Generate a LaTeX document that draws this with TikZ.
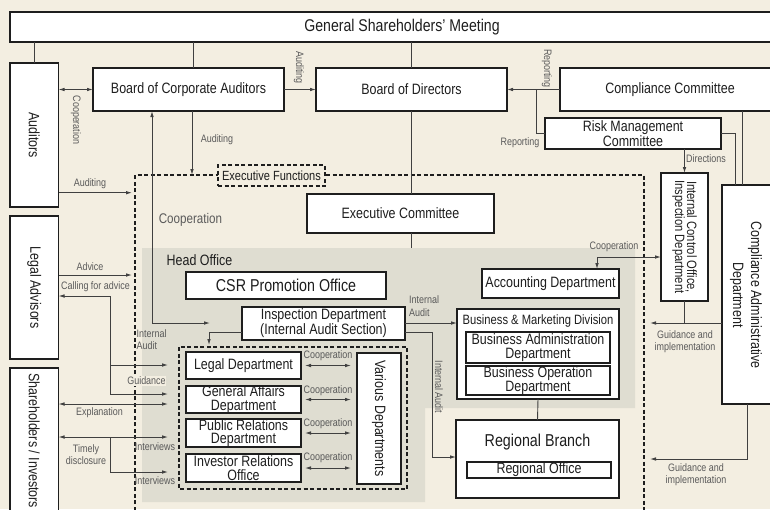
\documentclass[tikz,border=0pt]{standalone}
\usepackage{fontspec}
\setmainfont{Liberation Sans}[FakeStretch=0.83]
\usetikzlibrary{arrows.meta}
\definecolor{bg}{RGB}{243,238,225}
\definecolor{ho}{RGB}{223,221,209}
\definecolor{ln}{RGB}{64,64,64}
\definecolor{lbl}{RGB}{90,90,90}
\definecolor{tx}{RGB}{30,30,30}
\tikzset{
  box/.style={draw=tx, line width=1.1pt, fill=white, inner sep=0pt, outer sep=0pt},
  btxt/.style={text=tx, align=center, inner sep=0pt, font=\fontsize{15}{13.5}\selectfont},
  lab/.style={text=lbl, inner sep=0pt, align=center, font=\fontsize{10.8}{12.5}\selectfont},
  con/.style={draw=ln, line width=0.9pt},
  dsh/.style={draw=tx, line width=1.4pt, dash pattern=on 4pt off 2.5pt},
}
\begin{document}
\begin{tikzpicture}[x=1pt,y=-1pt,>={Latex[length=6pt,width=3.6pt]}]
\useasboundingbox (0,0) rectangle (770,509);
\clip (0,0) rectangle (770,509);
\fill[bg] (0,0) rectangle (770,509);
\fill[ho] (142,248) -- (635,248) -- (635,408) -- (425,408) -- (425,502) -- (142,502) -- cycle;
\draw[dsh] (135,530) -- (135,175) -- (644,175) -- (644,530);
\draw[dsh] (179,347) rectangle (407,489);

% ---------- boxes ----------
\node[box, minimum width=784, minimum height=30] (gsm) at (402,27) {};
\node[btxt, font=\fontsize{17}{17}\selectfont] at (gsm) {General Shareholders’ Meeting};

\node[box, minimum width=48.5, minimum height=144] (aud) at (34.25,135) {};
\node[btxt, rotate=-90] at (aud) {Auditors};
\node[box, minimum width=48.5, minimum height=143] (la) at (34.25,287.5) {};
\node[btxt, rotate=-90] at (la) {Legal Advisors};
\node[box, minimum width=48.5, minimum height=152] (si) at (34.25,444) {};
\node[btxt, rotate=-90, anchor=west] at (34.25,373) {Shareholders / Investors};

\node[box, minimum width=191, minimum height=43] (bca) at (188.5,89.5) {};
\node[btxt] at (bca) {Board of Corporate Auditors};
\node[box, minimum width=191, minimum height=43] (bod) at (411.5,89.5) {};
\node[btxt] at (bod) {Board of Directors};
\node[box, minimum width=220, minimum height=43] (cc) at (670,89.5) {};
\node[btxt] at (cc) {Compliance Committee};
\node[box, minimum width=176, minimum height=31] (rmc) at (633,133.5) {};
\node[btxt] at (rmc) {Risk Management\\Committee};
\node[box, minimum width=47, minimum height=128] (ico) at (684.5,237) {};
\node[btxt, rotate=-90, font=\fontsize{13.5}{12}\selectfont] at (ico) {Internal Control Office,\\Inspection Department};
\node[box, minimum width=49, minimum height=219] (cad) at (746.5,294.5) {};
\node[btxt, rotate=-90, font=\fontsize{15}{18}\selectfont] at (746,295) {Compliance Administrative\\Department};

\node[box, minimum width=187, minimum height=39] (ec) at (400.5,213.5) {};
\node[btxt] at (ec) {Executive Committee};
\node[box, minimum width=200, minimum height=27] (csr) at (286,285.5) {};
\node[btxt, font=\fontsize{17.2}{17}\selectfont] at (csr) {CSR Promotion Office};
\node[box, minimum width=163, minimum height=33] (insp) at (323.5,323.5) {};
\node[btxt] at (insp) {Inspection Department\\(Internal Audit Section)};
\node[box, minimum width=137, minimum height=29] (acc) at (550.5,283.5) {};
\node[btxt] at (acc) {Accounting Department};

\node[box, minimum width=162, minimum height=90] (bmd) at (538,354) {};
\node[btxt, font=\fontsize{13.5}{13}\selectfont] at (538,321) {Business \& Marketing Division};
\node[box, minimum width=144, minimum height=31] (bad) at (538,347.5) {};
\node[btxt] at (bad) {Business Administration\\Department};
\node[box, minimum width=144, minimum height=29] (bop) at (538,380.5) {};
\node[btxt] at (bop) {Business Operation\\Department};

\node[box, minimum width=163, minimum height=78] (rb) at (537.5,459) {};
\node[btxt, font=\fontsize{17.2}{17}\selectfont] at (537.5,442) {Regional Branch};
\node[box, minimum width=144, minimum height=16] (ro) at (539,470) {};
\node[btxt] at (ro) {Regional Office};

\node[box, minimum width=115, minimum height=27] (legal) at (243.5,365.5) {};
\node[btxt] at (legal) {Legal Department};
\node[box, minimum width=115, minimum height=27] (ga) at (243.5,399.5) {};
\node[btxt] at (ga) {General Affairs\\Department};
\node[box, minimum width=115, minimum height=28] (pr) at (243.5,433) {};
\node[btxt] at (pr) {Public Relations\\Department};
\node[box, minimum width=115, minimum height=28] (ir) at (243.5,468) {};
\node[btxt] at (ir) {Investor Relations\\Office};
\node[box, minimum width=44, minimum height=131] (vd) at (379,418.5) {};
\node[btxt, rotate=-90] at (vd) {Various Departments};

\node[dsh, fill=bg, minimum width=107, minimum height=21, inner sep=0pt, text=tx,
      font=\fontsize{13.3}{13}\selectfont] (ef) at (271.5,175.5) {Executive Functions};

% ---------- connectors ----------
\draw[con] (aud.north) -- (aud.north |- gsm.south);
\coordinate (p1) at (193,68);
\draw[con] (p1) -- (p1 |- gsm.south);
\draw[con] (bod.north) -- (bod.north |- gsm.south);
\draw[con,<->] (bca.west -| aud.east) -- (bca.west);
\draw[con,->] (bca.east) -- (bod.west);
\draw[con,->] (cc.west) -- (bod.east);
\coordinate (j1) at (536,89.5);
\draw[con] (j1) |- (rmc.west);
\draw[con,->] (ico.north |- rmc.south) -- (ico.north);
\coordinate (k735) at (735,0);
\draw[con] (rmc.east) -| (cad.north -| k735);
\coordinate (k742) at (742,0);
\draw[con] (cc.south -| k742) -- (cad.north -| k742);
\coordinate (eft) at (0,175);
\coordinate (k192) at (192,0);
\draw[con,->] (bca.south -| k192) -- (eft -| k192);
\coordinate (c210) at (210,323);
\coordinate (k152) at (152,0);
\draw[con,<->] (bca.south -| k152) |- (c210);
\coordinate (a132) at (132,192.7);
\draw[con,->] (a132 -| aud.east) -- (a132);
\draw[con] (bod.south) -- (bod.south |- ec.north);
\coordinate (h248) at (411.5,248);
\draw[con] (ec.south -| h248) -- (h248);
\coordinate (adv) at (132,275);
\draw[con,->] (adv -| la.east) -- (adv);
\coordinate (cfa) at (110,296);
\draw[con,->] (cfa) -- (cfa -| la.east);
\coordinate (g1) at (168,365);
\coordinate (g2) at (168,394);
\draw[con] (cfa) -- (cfa |- g2);
\draw[con,->] (g1 -| cfa) -- (g1);
\draw[con,->] (g2 -| cfa) -- (g2);
\coordinate (e1) at (168,404);
\draw[con,<->] (e1 -| si.east) -- (e1);
\coordinate (t1) at (168,437);
\coordinate (t2) at (168,472);
\draw[con,<->] (t1 -| si.east) -- (t1);
\draw[con,->] (t1 -| cfa) |- (t2);
\coordinate (i1) at (209,345);
\coordinate (iy) at (0,332);
\draw[con,->] (insp.west |- iy) -| (i1);
\coordinate (iy2) at (0,323);
\draw[con,->] (insp.east |- iy2) -- (bmd.west |- iy2);
\coordinate (r1) at (432,457);
\draw[con,->] (insp.east |- iy) -| (r1) -- (rb.west |- r1);
\draw[con] (bmd.south) -- (rb.north);
\coordinate (c597) at (597,257);
\draw[con,<->] (acc.north -| c597) |- (ico.west |- c597);
\coordinate (q1) at (650,323);
\draw[con] (ico.south) -- (ico.south |- q1);
\draw[con,->] (cad.west |- q1) -- (q1);
\coordinate (q2) at (650,459);
\coordinate (k747) at (747,0);
\draw[con,->] (cad.south -| k747) |- (q2);
\foreach \d in {legal,ga,pr,ir}{
  \draw[con,<->] ([xshift=4]\d.east) -- ([xshift=-6]vd.west |- \d.east);
}

% ---------- labels ----------
\node[lab, rotate=-90] at (76,120) {Cooperation};
\node[lab, rotate=-90] at (299,67.5) {Auditing};
\node[lab, rotate=-90] at (547,68.5) {Reporting};
\node[lab] at (520,143) {Reporting};
\node[lab] at (706,159) {Directions};
\node[lab] at (217,140) {Auditing};
\node[lab, font=\fontsize{14}{14}\selectfont] at (190.5,220) {Cooperation};
\node[lab] at (90,184) {Auditing};
\node[lab] at (90,267) {Advice};
\node[lab] at (95.5,287) {Calling for advice};
\node[lab, align=left, anchor=west, font=\fontsize{10.8}{12.5}\selectfont] at (136.5,339.5) {Internal\\Audit};
\node[lab, fill=bg, inner sep=0.8pt] at (146.5,381) {Guidance};
\node[lab] at (99.5,413) {Explanation};
\node[lab] at (86,454.5) {Timely\\disclosure};
\node[lab] at (155,447) {Interviews};
\node[lab] at (155,481) {Interviews};
\node[text=tx, inner sep=0pt, font=\fontsize{15}{15}\selectfont] at (199.5,260) {Head Office};
\node[lab, align=left, anchor=west] at (409,306) {Internal\\Audit};
\node[lab, rotate=-90] at (439,387) {Internal Audit};
\node[lab] at (614,247) {Cooperation};
\node[lab] at (685,341.5) {Guidance and\\implementation};
\node[lab] at (696,474.5) {Guidance and\\implementation};
\foreach \d/\y in {legal/356,ga/391,pr/424,ir/458}{
  \node[lab] at (328,\y) {Cooperation};
}
\end{tikzpicture}
\end{document}
